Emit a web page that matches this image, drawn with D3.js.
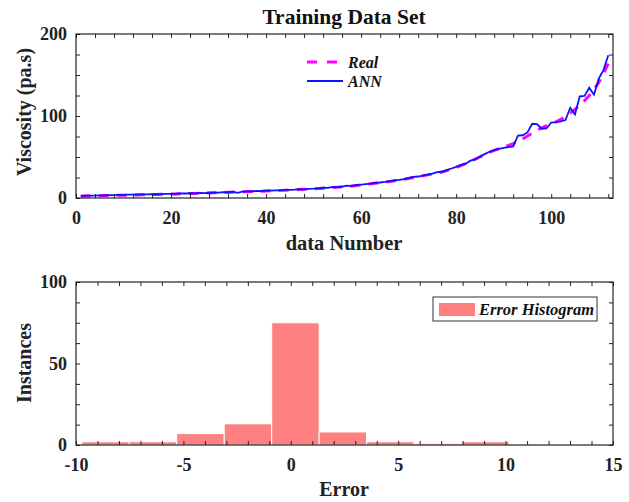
<!DOCTYPE html>
<html><head><meta charset="utf-8">
<script src="https://cdn.jsdelivr.net/npm/d3@7"></script>
<style>
html,body{margin:0;padding:0;background:#fff;}
svg{display:block;font-family:"Liberation Serif","Times New Roman",serif;}
</style></head>
<body>
<svg id="c" width="629" height="502"></svg>
<script>
// ---------- data ----------
const dataNumber = d3.range(1, 113);
const realValues = [
  2.1, 2.3, 2.4, 2.6, 2.7, 2.9, 3.0, 3.1, 3.3, 3.4,
  3.5, 3.6, 3.8, 3.9, 4.0, 4.2, 4.3, 4.5, 4.6, 4.8,
  4.9, 5.1, 5.2, 5.4, 5.6, 5.7, 5.9, 6.1, 6.3, 6.5,
  6.7, 6.9, 7.1, 7.3, 7.5, 7.7, 7.9, 8.1, 8.3, 8.6,
  8.8, 9.0, 9.3, 9.5, 9.8, 10.0, 10.3, 10.6, 10.9, 11.2,
  11.5, 11.9, 12.3, 12.7, 13.1, 13.6, 14.1, 14.7, 15.3, 16.0,
  16.6, 17.3, 18.0, 18.7, 19.4, 20.2, 21.0, 21.9, 22.8, 23.8,
  24.9, 26.0, 27.1, 28.2, 29.3, 30.5, 31.8, 33.4, 35.2, 37.3,
  39.6, 42.0, 44.6, 47.3, 50.0, 52.8, 55.6, 58.0, 60.2, 62.2,
  64.2, 66.4, 69.0, 72.0, 75.5, 79.2, 82.6, 85.4, 87.8, 90.2,
  92.8, 95.8, 99.4, 103.5, 108.0, 113.0, 118.6, 125.0, 132.5, 141.0, 151.5, 164.0
];
const annValues = [
  2.6, 2.8, 2.9, 3.0, 3.2, 3.3, 3.5, 3.6, 3.7, 3.9,
  4.0, 4.1, 4.3, 4.4, 4.5, 4.7, 4.6, 4.8, 5.0, 5.1,
  5.2, 5.6, 5.5, 5.8, 5.7, 6.2, 5.9, 6.4, 6.6, 6.5,
  7.2, 7.0, 7.8, 6.2, 7.9, 8.1, 8.0, 8.6, 8.4, 9.0,
  9.0, 9.4, 9.3, 9.9, 10.0, 10.2, 10.8, 10.5, 11.2, 11.4,
  11.8, 12.6, 12.4, 13.5, 13.2, 13.8, 15.0, 14.5, 16.0, 16.4,
  17.0, 17.6, 18.6, 18.9, 19.6, 20.5, 21.6, 22.2, 23.0, 24.5,
  25.8, 26.2, 27.3, 28.6, 29.8, 31.5, 32.0, 34.0, 36.0, 38.0,
  40.5, 41.8, 45.5, 47.0, 50.5, 53.5, 56.4, 58.5, 60.0, 61.0,
  62.0, 63.0, 76.0, 76.5, 80.0, 90.5, 90.0, 84.5, 84.8, 92.0,
  92.5, 93.5, 95.0, 110.0, 102.0, 124.0, 124.5, 134.5, 126.0, 145.5, 156.0, 174.0
];
const topXTicks = [0, 20, 40, 60, 80, 100];
const topYTicks = [0, 100, 200];
const binStarts = [-9.73, -7.52, -5.31, -3.10, -0.89, 1.32, 3.53, 5.74, 7.95];
const binEnds   = [-7.52, -5.31, -3.10, -0.89, 1.32, 3.53, 5.74, 7.95, 10.16];
const binCounts = [2, 2, 7, 13, 75, 8, 2, 1, 2];
const botXTicks = [-10, -5, 0, 5, 10, 15];
const botYTicks = [0, 50, 100];

// ---------- setup ----------
const svg = d3.select("#c");
const FONT = "'Liberation Serif','Times New Roman',serif";
const L = 76, R = 613;
const T1 = 34, B1 = 198, T2 = 282, B2 = 445;

function frame(g, x, y, majorX, minorX, majorY, minorY, top, bottom) {
  const tk = 4;
  g.append("g").attr("transform", `translate(0,${bottom})`)
    .call(d3.axisBottom(x).tickValues(minorX).tickSize(-tk).tickFormat("").tickSizeOuter(0));
  g.append("g").attr("transform", `translate(0,${top})`)
    .call(d3.axisTop(x).tickValues(minorX).tickSize(-tk).tickFormat("").tickSizeOuter(0));
  g.append("g").attr("transform", `translate(${L},0)`)
    .call(d3.axisLeft(y).tickValues(minorY).tickSize(-tk).tickFormat("").tickSizeOuter(0));
  g.append("g").attr("transform", `translate(${R},0)`)
    .call(d3.axisRight(y).tickValues(minorY).tickSize(-tk).tickFormat("").tickSizeOuter(0));
  const fmt = d => String(d);
  const xl = g.append("g").attr("transform", `translate(0,${bottom})`)
    .call(d3.axisBottom(x).tickValues(majorX).tickFormat(fmt).tickSize(0).tickPadding(13).tickSizeOuter(0));
  const yl = g.append("g").attr("transform", `translate(${L},0)`)
    .call(d3.axisLeft(y).tickValues(majorY).tickFormat(fmt).tickSize(0).tickPadding(9).tickSizeOuter(0));
  [xl, yl].forEach(a => {
    a.select(".domain").remove();
    a.selectAll("text").attr("font-family", FONT).attr("font-size", 18)
      .attr("font-weight", "bold").attr("fill", "#222");
  });
  g.selectAll(".tick line").attr("stroke", "#222").attr("stroke-width", 1);
  g.selectAll(".domain").remove();
  g.append("rect").attr("x", L).attr("y", top).attr("width", R - L).attr("height", bottom - top)
    .attr("fill", "none").attr("stroke", "#222").attr("stroke-width", 1.2);
}

// ---------- top chart ----------
const x1 = d3.scaleLinear().domain([0, 113]).range([L, R]);
const y1 = d3.scaleLinear().domain([0, 200]).range([B1, T1]);
const g1 = svg.append("g");

const line1 = d3.line().x((d, i) => x1(dataNumber[i])).y(d => y1(d));
g1.append("path").datum(realValues).attr("d", line1).attr("fill", "none")
  .attr("stroke", "#ff00ff").attr("stroke-width", 3).attr("stroke-dasharray", "10,8");
g1.append("path").datum(annValues).attr("d", line1).attr("fill", "none")
  .attr("stroke", "#0a14ff").attr("stroke-width", 1.8);

frame(g1, x1, y1, topXTicks, d3.range(0, 113, 4), topYTicks, d3.range(0, 201, 25), T1, B1);

svg.append("text").attr("x", 344).attr("y", 24).attr("text-anchor", "middle")
  .attr("font-family", FONT).attr("font-size", 21.5).attr("font-weight", "bold").attr("fill", "#111")
  .text("Training Data Set");
svg.append("text").attr("x", 344).attr("y", 250).attr("text-anchor", "middle")
  .attr("font-family", FONT).attr("font-size", 20.5).attr("font-weight", "bold").attr("fill", "#222")
  .text("data Number");
svg.append("text").attr("transform", "translate(31,112) rotate(-90)").attr("text-anchor", "middle")
  .attr("font-family", FONT).attr("font-size", 20).attr("font-weight", "bold").attr("fill", "#222")
  .text("Viscosity (pa.s)");

// legend top
const lg = svg.append("g");
lg.append("line").attr("x1", 307).attr("x2", 343).attr("y1", 62).attr("y2", 62)
  .attr("stroke", "#ff00ff").attr("stroke-width", 3).attr("stroke-dasharray", "10,10");
lg.append("line").attr("x1", 307).attr("x2", 343).attr("y1", 81).attr("y2", 81)
  .attr("stroke", "#0a14ff").attr("stroke-width", 1.8);
lg.append("text").attr("x", 348).attr("y", 67.5).text("Real");
lg.append("text").attr("x", 348).attr("y", 86.5).text("ANN");
lg.selectAll("text").attr("font-family", FONT).attr("font-size", 16)
  .attr("font-weight", "bold").attr("font-style", "italic").attr("fill", "#111");

// ---------- bottom chart ----------
const x2 = d3.scaleLinear().domain([-10, 15]).range([L, R]);
const y2 = d3.scaleLinear().domain([0, 100]).range([B2, T2]);
const g2 = svg.append("g");

g2.selectAll("rect.bar").data(binCounts).join("rect").attr("class", "bar")
  .attr("x", (d, i) => x2(binStarts[i]))
  .attr("width", (d, i) => x2(binEnds[i]) - x2(binStarts[i]))
  .attr("y", d => y2(d))
  .attr("height", d => y2(0) - y2(d))
  .attr("fill", "#ff8080").attr("stroke", "#ffffff").attr("stroke-width", 1);

frame(g2, x2, y2, botXTicks, d3.range(-10, 16, 1), botYTicks, d3.range(0, 101, 12.5), T2, B2);

svg.append("text").attr("x", 344).attr("y", 496).attr("text-anchor", "middle")
  .attr("font-family", FONT).attr("font-size", 20).attr("font-weight", "bold").attr("fill", "#222")
  .text("Error");
svg.append("text").attr("transform", "translate(31,363) rotate(-90)").attr("text-anchor", "middle")
  .attr("font-family", FONT).attr("font-size", 20).attr("font-weight", "bold").attr("fill", "#222")
  .text("Instances");

// legend bottom
const lb = svg.append("g");
lb.append("rect").attr("x", 433).attr("y", 297).attr("width", 164).attr("height", 24)
  .attr("fill", "#fff").attr("stroke", "#333").attr("stroke-width", 1);
lb.append("rect").attr("x", 439).attr("y", 303).attr("width", 36).attr("height", 13)
  .attr("fill", "#ff8080");
lb.append("text").attr("x", 479).attr("y", 315).text("Error Histogram")
  .attr("font-family", FONT).attr("font-size", 16.5).attr("font-weight", "bold")
  .attr("font-style", "italic").attr("fill", "#111");
</script>
</body></html>
